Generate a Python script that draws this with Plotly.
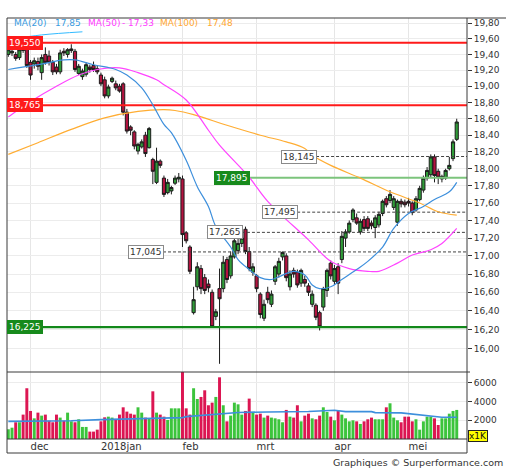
import math
import plotly.graph_objects as go

# ---------------- data ----------------
months = ["dec", "2018jan", "feb", "mrt", "apr", "mei"]
month_first_idx = [6, 25, 47, 67, 88, 108]

opens = [19.40, 19.42, 19.40, 19.36, 19.50, 19.49, 19.30, 19.28, 19.31, 19.17,
         19.40, 19.38, 19.30, 19.24, 19.18, 19.44, 19.40, 19.45, 19.44, 19.16,
         19.12, 19.15, 19.24, 19.26, 19.22, 19.14, 19.08, 18.88, 19.06, 19.03,
         19.00, 19.03, 18.68, 18.50, 18.44, 18.21, 18.26, 18.40, 18.25, 18.11,
         17.84, 18.09, 17.89, 17.72, 17.74, 17.83, 17.88, 17.88, 17.26, 17.10,
         16.38, 16.66, 16.86, 16.76, 16.69, 16.60, 16.34, 16.64, 16.64, 16.96,
         16.78, 16.99, 17.06, 17.14, 17.30, 17.05, 16.82, 16.78, 16.58, 16.32,
         16.60, 16.47, 16.72, 16.80, 16.99, 17.00, 16.66, 16.84, 16.82, 16.70,
         16.74, 16.67, 16.47, 16.46, 16.38, 16.44, 16.62, 16.92, 16.72, 16.88,
         16.96, 17.20, 17.27, 17.41, 17.43, 17.27, 17.41, 17.42, 17.37, 17.32,
         17.35, 17.48, 17.65, 17.63, 17.55, 17.38, 17.62, 17.61, 17.62, 17.60,
         17.52, 17.64, 17.75, 17.89, 17.93, 18.14, 17.97, 17.88, 17.89, 18.00,
         18.12, 18.35]
highs = [19.50, 19.47, 19.43, 19.50, 19.53, 19.52, 19.33, 19.36, 19.36, 19.40,
         19.49, 19.45, 19.33, 19.28, 19.46, 19.48, 19.48, 19.53, 19.47, 19.28,
         19.22, 19.30, 19.27, 19.31, 19.26, 19.17, 19.12, 19.02, 19.12, 19.07,
         19.03, 19.05, 18.72, 18.52, 18.46, 18.31, 18.35, 18.44, 18.50, 18.13,
         18.25, 18.11, 17.92, 17.88, 17.80, 17.92, 17.95, 17.92, 17.28, 17.12,
         16.66, 16.93, 16.90, 16.80, 16.74, 16.63, 16.42, 16.86, 17.00, 16.99,
         17.05, 17.22, 17.20, 17.24, 17.33, 17.10, 16.92, 16.80, 16.60, 16.52,
         16.66, 16.62, 16.90, 16.98, 17.05, 17.03, 16.84, 16.87, 16.85, 16.86,
         16.78, 16.70, 16.62, 16.48, 16.40, 16.66, 16.86, 16.95, 16.90, 16.92,
         17.28, 17.30, 17.40, 17.54, 17.48, 17.42, 17.45, 17.45, 17.40, 17.46,
         17.50, 17.64, 17.68, 17.75, 17.68, 17.64, 17.65, 17.64, 17.66, 17.62,
         17.68, 17.80, 17.92, 18.02, 18.17, 18.17, 18.00, 17.93, 18.00, 18.14,
         18.35, 18.60]
lows = [19.37, 19.38, 19.32, 19.33, 19.42, 19.23, 19.08, 19.22, 19.20, 19.08,
        19.27, 19.26, 19.14, 19.15, 19.15, 19.38, 19.36, 19.42, 19.18, 19.14,
        19.08, 19.12, 19.17, 19.18, 19.15, 19.00, 18.85, 18.85, 19.04, 18.95,
        18.92, 18.64, 18.42, 18.40, 18.23, 18.17, 18.24, 18.14, 18.24, 17.82,
        17.82, 18.01, 17.67, 17.70, 17.70, 17.81, 17.84, 17.10, 17.14, 16.80,
        16.36, 16.62, 16.58, 16.58, 16.60, 16.22, 16.30, 15.84, 16.60, 16.70,
        16.75, 16.97, 17.02, 17.10, 17.02, 16.83, 16.78, 16.60, 16.32, 16.29,
        16.48, 16.44, 16.68, 16.76, 16.95, 16.72, 16.62, 16.76, 16.65, 16.66,
        16.66, 16.56, 16.44, 16.30, 16.19, 16.40, 16.55, 16.74, 16.68, 16.58,
        16.92, 17.10, 17.25, 17.38, 17.35, 17.24, 17.28, 17.28, 17.30, 17.20,
        17.32, 17.45, 17.55, 17.60, 17.52, 17.34, 17.55, 17.55, 17.56, 17.46,
        17.50, 17.62, 17.72, 17.86, 17.90, 17.84, 17.82, 17.84, 17.87, 17.98,
        18.09, 18.33]
closes = [19.46, 19.44, 19.35, 19.46, 19.45, 19.26, 19.14, 19.32, 19.25, 19.36,
          19.30, 19.30, 19.18, 19.18, 19.42, 19.42, 19.46, 19.47, 19.21, 19.25,
          19.19, 19.27, 19.21, 19.21, 19.18, 19.03, 18.88, 18.99, 19.10, 18.98,
          18.94, 18.68, 18.45, 18.46, 18.27, 18.29, 18.32, 18.18, 18.48, 17.97,
          18.09, 18.04, 17.70, 17.84, 17.78, 17.89, 17.90, 17.24, 17.17, 16.83,
          16.52, 16.88, 16.64, 16.62, 16.65, 16.23, 16.39, 16.53, 16.93, 16.74,
          17.00, 17.17, 17.14, 17.20, 17.05, 16.86, 16.88, 16.64, 16.36, 16.47,
          16.52, 16.58, 16.88, 16.94, 17.04, 16.76, 16.80, 16.80, 16.68, 16.84,
          16.70, 16.60, 16.58, 16.33, 16.23, 16.64, 16.84, 16.78, 16.86, 16.70,
          17.22, 17.27, 17.37, 17.52, 17.37, 17.39, 17.31, 17.31, 17.34, 17.43,
          17.47, 17.62, 17.58, 17.70, 17.65, 17.62, 17.59, 17.58, 17.60, 17.49,
          17.65, 17.77, 17.89, 17.98, 18.14, 17.92, 17.90, 17.91, 17.98, 18.04,
          18.32, 18.56]
volumes = [1040, 1210, 1790, 1790, 2610, 5430, 3000, 2210, 2820, 2500,
           2610, 1960, 1790, 2610, 2290, 1960, 2820, 1890, 1790, 2110,
           1290, 1290, 790, 790, 1000, 1890, 2320, 2390, 2290, 2070,
           2610, 3390, 2930, 2710, 2610, 3390, 2820, 2290, 2210, 5100,
           2820, 2610, 2390, 2040, 3280, 3280, 3280, 7210, 3280, 2610,
           5430, 4280, 4500, 5210, 3610, 3890, 4500, 6600, 3610, 1890,
           2500, 3890, 3710, 2610, 3000, 4320, 2890, 2610, 2710, 2290,
           2500, 2290, 2210, 2110, 1790, 3110, 2390, 2290, 3610, 1890,
           2500, 2710, 2210, 2110, 2500, 3390, 2890, 2390, 2000, 3000,
           2610, 2210, 1890, 2000, 1890, 1610, 1890, 2110, 2290, 2110,
           2110, 2110, 3390, 3820, 2290, 2000, 1790, 2390, 2390, 1890,
           2110, 1000, 1890, 2390, 2390, 2210, 1500, 2210, 2210, 2710,
           3000, 3110]

ma20_idx = [0, 8, 15, 18, 23, 29, 32, 36, 39, 42, 44, 48, 51, 54, 56, 60, 62, 65,
            68, 71, 73, 77, 80, 82, 84, 87, 90, 94, 97, 101, 104, 108, 112, 115, 119, 121]
ma20_val = [19.21, 19.27, 19.33, 19.33, 19.27, 19.21, 19.14, 18.98, 18.77, 18.53, 18.43,
            18.10, 17.79, 17.56, 17.33, 17.10, 16.96, 16.85, 16.76, 16.74, 16.77, 16.83,
            16.79, 16.68, 16.64, 16.66, 16.74, 16.85, 16.94, 17.10, 17.31, 17.48, 17.56,
            17.64, 17.73, 17.84]
ma50_idx = [0, 6, 13, 19, 24, 30, 35, 40, 42, 48, 54, 57, 65, 70, 81, 87, 92, 97,
            100, 105, 109, 114, 117, 121]
ma50_val = [18.62, 18.81, 19.00, 19.14, 19.21, 19.23, 19.17, 19.08, 19.02, 18.83, 18.46,
            18.28, 17.90, 17.62, 17.18, 16.94, 16.86, 16.83, 16.83, 16.92, 17.01, 17.07,
            17.14, 17.31]
ma100_idx = [0, 8, 17, 26, 35, 42, 45, 50, 59, 68, 75, 80, 82, 87, 95, 103, 111, 116, 121]
ma100_val = [18.17, 18.31, 18.47, 18.61, 18.69, 18.71, 18.70, 18.65, 18.52, 18.40, 18.32,
             18.24, 18.16, 18.04, 17.89, 17.73, 17.60, 17.50, 17.46]
band_idx = [0, 9, 20]
band_val = [19.59, 19.65, 19.69]
vma_idx = [0, 4, 5, 17, 25, 35, 38, 44, 47, 48, 53, 58, 62, 70, 81, 88, 91, 98, 99,
           106, 110, 113, 117, 121]
vma_val = [1890, 1890, 1960, 1960, 2070, 2140, 2210, 2210, 2290, 2390, 2570, 2680, 2840,
           2890, 2950, 3070, 2930, 2930, 2820, 2790, 2640, 2500, 2320, 2320]

ma_legend = [("MA(20)", "17,85"), ("MA(50)", "- 17,33"), ("MA(100)", "17,48")]

# horizontal levels: value, label, style, label start index (None = left edge)
levels = [19.550, 18.765, 16.225, 17.895, 18.145, 17.495, 17.265, 17.045]
level_labels = ["19,550", "18,765", "16,225", "17,895", "18,145", "17,495", "17,265", "17,045"]
level_styles = ["red", "red", "dgreen", "lgreen", "dash", "dash", "dash", "dash"]
level_label_idx = [None, None, None, 55.5, 73.6, 68.5, 53.6, 32.3]

price_ticks = [16.0, 16.2, 16.4, 16.6, 16.8, 17.0, 17.2, 17.4, 17.6, 17.8,
               18.0, 18.2, 18.4, 18.6, 18.8, 19.0, 19.2, 19.4, 19.6, 19.8]
vol_ticks = [2000, 4000, 6000]

# ---------------- figure ----------------
FONT = "DejaVu Sans"
n = len(closes)
idx = list(range(n))
X0, X1 = -0.35, 123.77
VOL_FRAC = 0.1591

up_col, dn_col = "#2f9c38", "#b3123f"
vol_up, vol_dn = "#3cc43c", "#dc1652"
vol_colors = [vol_up if c >= o else vol_dn for o, c in zip(opens, closes)]

fig = go.Figure()

style_map = {
    "red": dict(color="#ff1a1a", width=2),
    "dgreen": dict(color="#12881a", width=2.2),
    "lgreen": dict(color="#7cc47c", width=2),
    "dash": dict(color="#444444", width=1, dash="3px,2px"),
}
for v, st, lx in zip(levels, level_styles, level_label_idx):
    xs = X0 if lx is None else lx
    fig.add_trace(go.Scatter(x=[xs, X1], y=[v, v], mode="lines", line=style_map[st],
                             hoverinfo="skip", xaxis="x", yaxis="y"))

fig.add_trace(go.Scatter(x=ma100_idx, y=ma100_val, mode="lines",
                         line=dict(color="#ffad33", width=1.2, shape="spline"), xaxis="x", yaxis="y"))
fig.add_trace(go.Scatter(x=ma50_idx, y=ma50_val, mode="lines",
                         line=dict(color="#ff44ff", width=1.2, shape="spline"), xaxis="x", yaxis="y"))
fig.add_trace(go.Scatter(x=ma20_idx, y=ma20_val, mode="lines",
                         line=dict(color="#3d8fdc", width=1.2, shape="spline"), xaxis="x", yaxis="y"))
fig.add_trace(go.Scatter(x=band_idx, y=band_val, mode="lines",
                         line=dict(color="#33bbff", width=1, shape="spline"), xaxis="x", yaxis="y"))

fig.add_trace(go.Candlestick(
    x=idx, open=opens, high=highs, low=lows, close=closes,
    increasing=dict(line=dict(color="#1c1c1c", width=1), fillcolor=up_col),
    decreasing=dict(line=dict(color="#1c1c1c", width=1), fillcolor=dn_col),
    whiskerwidth=0, xaxis="x", yaxis="y"))

fig.add_trace(go.Bar(x=idx, y=volumes, marker=dict(color=vol_colors, line=dict(width=0)),
                     xaxis="x", yaxis="y2"))
fig.add_trace(go.Scatter(x=vma_idx, y=vma_val, mode="lines",
                         line=dict(color="#3d8fdc", width=1.6), xaxis="x", yaxis="y2"))

annotations = []
# level labels
for v, t, st, lx in zip(levels, level_labels, level_styles, level_label_idx):
    if st == "red":
        bg, fg, bc = "#ff1a1a", "white", "#ff1a1a"
    elif st in ("dgreen", "lgreen"):
        bg, fg, bc = "#178a1c", "white", "#178a1c"
    else:
        bg, fg, bc = "white", "#333333", "#8a8a8a"
    if lx is None:
        ax = dict(x=0, xref="paper")
    else:
        ax = dict(x=lx, xref="x")
    annotations.append(dict(text=t, y=math.log10(v), yref="y", xanchor="left", yanchor="middle",
                            showarrow=False, bgcolor=bg, bordercolor=bc, borderwidth=1, borderpad=1,
                            font=dict(family=FONT, size=9, color=fg), **ax))

# MA legend on top
leg_pos = [(12, 53), (86, 120), (158, 205)]
leg_cols = ["#3a9be0", "#ff3cff", "#ffa833"]
for (name, val), (p1, p2), c in zip(ma_legend, leg_pos, leg_cols):
    for txt, px in ((name, p1), (val, p2)):
        annotations.append(dict(text=txt, x=(px - 7) / 460, y=(439 - 23) / 421, xref="paper", yref="paper",
                                xanchor="left", yanchor="middle", showarrow=False,
                                font=dict(family=FONT, size=9, color=c)))

annotations.append(dict(text="x1K", x=(468 - 7) / 460, y=(439 - 435.5) / 421, xref="paper", yref="paper",
                        xanchor="left", yanchor="middle", showarrow=False, bgcolor="#ffff00",
                        bordercolor="#222", borderwidth=1, borderpad=0,
                        font=dict(family=FONT, size=9, color="#111")))
annotations.append(dict(text="Graphiques © Surperformance.com", x=(505 - 7) / 460, y=(439 - 462) / 421,
                        xref="paper", yref="paper", xanchor="right", yanchor="middle", showarrow=False,
                        font=dict(family=FONT, size=9.5, color="#333")))

def px_x(p):
    return (p - 7) / 460

def px_y(p):
    return (439 - p) / 421

line_c = dict(color="#3a3a3a", width=1)
shapes = [
    dict(type="line", xref="paper", yref="paper", x0=px_x(7), x1=px_x(506), y0=px_y(18), y1=px_y(18), line=line_c),
    dict(type="line", xref="paper", yref="paper", x0=px_x(7), x1=px_x(7), y0=px_y(18), y1=px_y(453), line=line_c),
    dict(type="line", xref="paper", yref="paper", x0=px_x(467), x1=px_x(467), y0=px_y(18), y1=px_y(453), line=line_c),
    dict(type="line", xref="paper", yref="paper", x0=px_x(7), x1=px_x(467), y0=px_y(453), y1=px_y(453), line=line_c),
    dict(type="line", xref="paper", yref="paper", x0=px_x(7), x1=px_x(470), y0=px_y(372), y1=px_y(372), line=line_c),
    dict(type="line", xref="paper", yref="paper", x0=px_x(7), x1=px_x(467), y0=px_y(439), y1=px_y(439), line=line_c),
]

fig.update_layout(
    width=512, height=470,
    margin=dict(l=7, r=45, t=18, b=31),
    paper_bgcolor="white", plot_bgcolor="white",
    showlegend=False, hovermode=False,
    bargap=0.2, boxgap=0.15, boxgroupgap=0,
    font=dict(family=FONT, size=9, color="#333"),
    xaxis=dict(domain=[0, 1], anchor="y2", range=[X0, X1], tickvals=month_first_idx, ticktext=months,
               ticklabelposition="outside right", ticks="", showgrid=True, gridcolor="#e6e6e6",
               gridwidth=1, zeroline=False, showline=False, rangeslider=dict(visible=False),
               tickfont=dict(family=FONT, size=10, color="#333")),
    yaxis=dict(domain=[VOL_FRAC, 1], anchor="x", type="log",
               range=[math.log10(15.755), math.log10(19.869)], side="right",
               tickvals=price_ticks, ticktext=[f"{t:.2f}".replace(".", ",") for t in price_ticks],
               ticks="outside", ticklen=4, tickcolor="#333", showgrid=True, gridcolor="#ececec",
               zeroline=False, showline=False, tickfont=dict(family=FONT, size=9, color="#333")),
    yaxis2=dict(domain=[0, VOL_FRAC], anchor="x", range=[0, 7166], side="right",
                tickvals=vol_ticks, ticktext=[str(t) for t in vol_ticks],
                ticks="outside", ticklen=4, tickcolor="#333", showgrid=True, gridcolor="#ececec",
                zeroline=False, showline=False, tickfont=dict(family=FONT, size=9, color="#333")),
    annotations=annotations,
    shapes=shapes,
)

fig.write_html("out.html", config={"displayModeBar": False},
               post_script="document.body.style.margin='0';document.body.style.padding='0';")
